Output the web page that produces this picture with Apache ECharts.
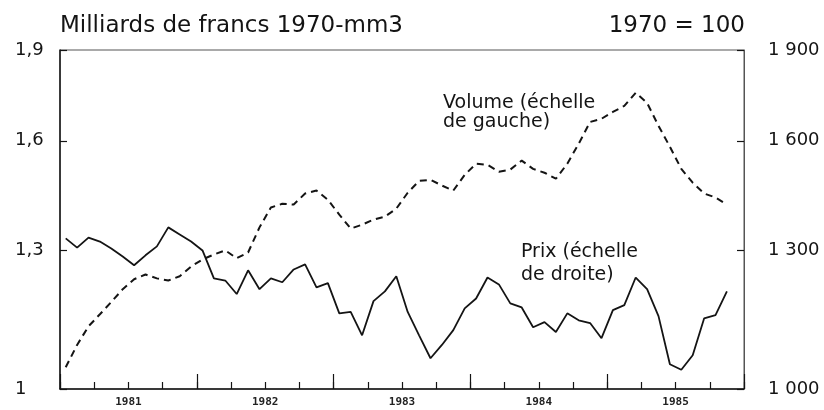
<!DOCTYPE html>
<html>
<head>
<meta charset="utf-8">
<script src="https://cdn.jsdelivr.net/npm/echarts@6/dist/echarts.min.js"></script>
<style>
html,body{margin:0;padding:0;background:#fff;}
#chart{width:824px;height:410px;}
</style>
</head>
<body>
<div id="chart"></div>
<script>
// ---- data ----
const years = ['1981', '1982', '1983', '1984', '1985'];
// monthly values, Jan 1981 .. Nov 1985
const volume = [1.042, 1.087, 1.126, 1.152, 1.179, 1.208, 1.231, 1.242, 1.233, 1.228,
  1.238, 1.261, 1.278, 1.290, 1.300, 1.281, 1.295, 1.358, 1.410, 1.420,
  1.418, 1.448, 1.456, 1.431, 1.391, 1.355, 1.365, 1.378, 1.386, 1.407,
  1.450, 1.483, 1.486, 1.470, 1.456, 1.500, 1.532, 1.529, 1.509, 1.515,
  1.541, 1.517, 1.506, 1.489, 1.532, 1.591, 1.658, 1.668, 1.690, 1.709,
  1.752, 1.719, 1.646, 1.582, 1.517, 1.478, 1.448, 1.437, 1.418];
const prix = [1330, 1307, 1332, 1322, 1305, 1285, 1264, 1288, 1310, 1358,
  1340, 1322, 1300, 1233, 1228, 1197, 1252, 1208, 1233, 1224,
  1254, 1266, 1212, 1222, 1154, 1157, 1107, 1181, 1203, 1238,
  1157, 1107, 1060, 1087, 1118, 1165, 1187, 1235, 1219, 1176,
  1167, 1124, 1135, 1114, 1154, 1139, 1133, 1101, 1161, 1172,
  1235, 1208, 1148, 1048, 1037, 1066, 1143, 1150, 1203];
const leftTicks = [1, 1.3, 1.6, 1.9];
const leftTickLabels = ['1', '1,3', '1,6', '1,9'];
const rightTicks = [1000, 1300, 1600, 1900];
const rightTickLabels = ['1 000', '1 300', '1 600', '1 900'];

// ---- build ----
const FONT = '"DejaVu Sans", sans-serif';
const INK = '#141414';
const volData = volume.map((v, i) => [i + 0.5, v]);
const prixData = prix.map((v, i) => [i + 0.5, v]);
const lMax = Math.log10(leftTicks[leftTicks.length - 1] / leftTicks[0]);
const rMax = Math.log10(rightTicks[rightTicks.length - 1] / rightTicks[0]);
const lCustom = leftTicks.map(t => Math.log10(t / leftTicks[0]));
const rCustom = rightTicks.map(t => Math.log10(t / rightTicks[0]));
function nearestLabel(v, custom, labels) {
  let best = 0;
  custom.forEach((c, i) => { if (Math.abs(c - v) < Math.abs(custom[best] - v)) best = i; });
  return labels[best];
}

const chart = echarts.init(document.getElementById('chart'), null, {renderer: 'canvas'});
chart.setOption({
  animation: false,
  backgroundColor: '#fff',
  grid: {left: 60, right: 80, top: 50, bottom: 21, show: true, borderColor: '#555', borderWidth: 1},
  xAxis: [
    {
      type: 'value', min: 0, max: 60, interval: 3, position: 'bottom',
      axisLine: {show: true, lineStyle: {color: INK, width: 1.5}},
      axisTick: {show: true, inside: true, length: 7, lineStyle: {color: INK, width: 1.2}},
      splitLine: {show: false},
      axisLabel: {
        show: true, margin: 8, color: '#222', fontFamily: '"DejaVu Sans Mono", monospace',
        fontWeight: 'bold', fontSize: 11,
        showMinLabel: true, showMaxLabel: true,
        formatter: v => (Math.round(v) % 12 === 6 ? years[(Math.round(v) - 6) / 12] : '')
      }
    },
    {
      type: 'value', min: 0, max: 60, interval: 12, position: 'bottom',
      axisLine: {show: false},
      axisTick: {show: true, inside: true, length: 15, lineStyle: {color: INK, width: 1.2}},
      splitLine: {show: false},
      axisLabel: {show: false}
    }
  ],
  yAxis: [
    {type: 'log', logBase: 10, min: leftTicks[0], max: leftTicks[leftTicks.length - 1], position: 'left', show: false},
    {type: 'log', logBase: 10, min: rightTicks[0], max: rightTicks[rightTicks.length - 1], position: 'right', show: false},
    {
      type: 'value', min: 0, max: lMax, position: 'left',
      axisLine: {show: true, lineStyle: {color: INK, width: 1.5}},
      axisTick: {show: true, inside: true, length: 7, customValues: lCustom, lineStyle: {color: INK, width: 1.2}},
      splitLine: {show: false},
      axisLabel: {
        show: true, customValues: lCustom, align: 'left', margin: 45,
        color: INK, fontFamily: FONT, fontSize: 18,
        formatter: v => nearestLabel(v, lCustom, leftTickLabels)
      }
    },
    {
      type: 'value', min: 0, max: rMax, position: 'right',
      axisLine: {show: true, lineStyle: {color: '#555', width: 1}},
      axisTick: {show: true, inside: true, length: 7, customValues: rCustom, lineStyle: {color: INK, width: 1.2}},
      splitLine: {show: false},
      axisLabel: {
        show: true, customValues: rCustom, align: 'left', margin: 24,
        color: INK, fontFamily: FONT, fontSize: 18,
        formatter: v => nearestLabel(v, rCustom, rightTickLabels)
      }
    }
  ],
  series: [
    {
      name: 'Volume', type: 'line', xAxisIndex: 0, yAxisIndex: 0, data: volData,
      symbol: 'none', lineStyle: {color: INK, width: 2, type: [7, 5]}, z: 3
    },
    {
      name: 'Prix', type: 'line', xAxisIndex: 0, yAxisIndex: 1, data: prixData,
      symbol: 'none', lineStyle: {color: INK, width: 1.8}, z: 3
    }
  ],
  graphic: [
    {type: 'text', x: 60, y: 26, style: {text: 'Milliards de francs 1970-mm3', font: '23px ' + FONT, fill: INK, align: 'left', verticalAlign: 'middle', textAlign: 'left', textVerticalAlign: 'middle'}},
    {type: 'text', x: 745, y: 26, style: {text: '1970 = 100', font: '23px ' + FONT, fill: INK, align: 'right', verticalAlign: 'middle', textAlign: 'right', textVerticalAlign: 'middle'}},
    {type: 'text', x: 443, y: 103, style: {text: 'Volume (échelle', font: '19px ' + FONT, fill: INK, align: 'left', verticalAlign: 'middle', textAlign: 'left', textVerticalAlign: 'middle'}},
    {type: 'text', x: 443, y: 122, style: {text: 'de gauche)', font: '19px ' + FONT, fill: INK, align: 'left', verticalAlign: 'middle', textAlign: 'left', textVerticalAlign: 'middle'}},
    {type: 'text', x: 521, y: 252, style: {text: 'Prix (échelle', font: '19px ' + FONT, fill: INK, align: 'left', verticalAlign: 'middle', textAlign: 'left', textVerticalAlign: 'middle'}},
    {type: 'text', x: 521, y: 275, style: {text: 'de droite)', font: '19px ' + FONT, fill: INK, align: 'left', verticalAlign: 'middle', textAlign: 'left', textVerticalAlign: 'middle'}}
  ]
});
</script>
</body>
</html>
